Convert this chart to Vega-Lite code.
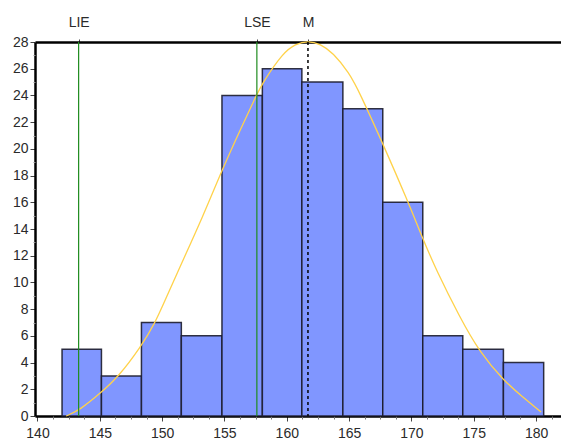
{
  "$schema": "https://vega.github.io/schema/vega-lite/v6.json",
  "autosize": "none",
  "width": 526,
  "height": 374,
  "padding": {"left": 35, "top": 42, "right": 0, "bottom": 28},
  "background": "white",
  "config": {
    "view": {"stroke": null},
    "axis": {"labelFont": "Liberation Sans", "labelFontSize": 14, "labelColor": "#2a2a2a", "grid": false, "title": null, "tickColor": "#444444", "domainColor": "#000000"}
  },
  "datasets": {
    "bars": [
      {"lo": 141.97, "hi": 145.13, "count": 5},
      {"lo": 145.13, "hi": 148.34, "count": 3},
      {"lo": 148.34, "hi": 151.54, "count": 7},
      {"lo": 151.54, "hi": 154.8, "count": 6},
      {"lo": 154.8, "hi": 158.04, "count": 24},
      {"lo": 158.04, "hi": 161.21, "count": 26},
      {"lo": 161.21, "hi": 164.5, "count": 25},
      {"lo": 164.5, "hi": 167.7, "count": 23},
      {"lo": 167.7, "hi": 170.91, "count": 16},
      {"lo": 170.91, "hi": 174.12, "count": 6},
      {"lo": 174.12, "hi": 177.38, "count": 5},
      {"lo": 177.38, "hi": 180.61, "count": 4}
    ],
    "curve": [
      {"x": 142.3, "y": 0.0},
      {"x": 143.4, "y": 0.45},
      {"x": 145.1, "y": 1.75},
      {"x": 146.5, "y": 2.95},
      {"x": 148.3, "y": 5.2},
      {"x": 149.4, "y": 6.9},
      {"x": 150.3, "y": 8.8},
      {"x": 151.3, "y": 10.9},
      {"x": 153.3, "y": 15.0},
      {"x": 154.75, "y": 18.3},
      {"x": 156.2, "y": 21.3},
      {"x": 157.55, "y": 24.0},
      {"x": 158.1, "y": 25.0},
      {"x": 159.7, "y": 27.2},
      {"x": 160.7, "y": 27.85},
      {"x": 161.7, "y": 28.1},
      {"x": 162.7, "y": 27.85},
      {"x": 163.7, "y": 27.2},
      {"x": 165.0, "y": 25.7},
      {"x": 165.85, "y": 24.2},
      {"x": 167.7, "y": 20.4},
      {"x": 169.7, "y": 16.1},
      {"x": 170.9, "y": 13.3},
      {"x": 172.0, "y": 10.9},
      {"x": 173.85, "y": 7.45},
      {"x": 175.45, "y": 4.8},
      {"x": 177.45, "y": 2.6},
      {"x": 178.9, "y": 1.45},
      {"x": 180.4, "y": 0.3}
    ],
    "limits": [
      {"name": "LIE", "v": 143.3},
      {"name": "LSE", "v": 157.6}
    ],
    "mean": [
      {"name": "M", "v": 161.7}
    ]
  },
  "resolve": {"axis": {"x": "independent", "y": "independent"}},
  "layer": [
    {
      "data": {"name": "bars"},
      "mark": {"type": "bar", "fill": "#8096FF", "stroke": "#1c1c2c", "strokeWidth": 1.5, "strokeOpacity": 0.9},
      "encoding": {
        "x": {"field": "lo", "type": "quantitative",
              "scale": {"domain": [139.8, 182], "nice": false, "zero": false},
              "axis": {"orient": "bottom", "values": [140, 145, 150, 155, 160, 165, 170, 175, 180], "tickSize": 5, "domainWidth": 2.5, "labelPadding": 5}},
        "x2": {"field": "hi"},
        "y": {"field": "count", "type": "quantitative",
              "scale": {"domain": [0, 28], "nice": false},
              "axis": {"orient": "left", "values": [0, 2, 4, 6, 8, 10, 12, 14, 16, 18, 20, 22, 24, 26, 28], "tickSize": 5, "domainWidth": 2.5, "labelPadding": 2}},
        "y2": {"datum": 0}
      }
    },
    {
      "data": {"name": "curve"},
      "mark": {"type": "line", "color": "#FFD24A", "strokeWidth": 1.3, "interpolate": "basis", "clip": false},
      "encoding": {
        "x": {"field": "x", "type": "quantitative",
              "axis": {"orient": "bottom", "values": [141.25, 142.5, 143.75, 146.25, 147.5, 148.75, 151.25, 152.5, 153.75, 156.25, 157.5, 158.75, 161.25, 162.5, 163.75, 166.25, 167.5, 168.75, 171.25, 172.5, 173.75, 176.25, 177.5, 178.75, 181.25], "labels": false, "tickSize": 3, "domain": false, "tickColor": "#777777"}},
        "y": {"field": "y", "type": "quantitative",
              "axis": {"orient": "left", "values": [1, 3, 5, 7, 9, 11, 13, 15, 17, 19, 21, 23, 25, 27], "labels": false, "tickSize": 2, "domain": false, "tickColor": "#999999"}}
      }
    },
    {
      "data": {"name": "limits"},
      "mark": {"type": "rule", "color": "#1E8C1E", "strokeWidth": 1.2},
      "encoding": {
        "x": {"field": "v", "type": "quantitative",
              "axis": {"orient": "top", "values": [143.3, 157.6, 161.7], "labelExpr": "datum.value < 150 ? 'LIE' : (datum.value < 160 ? 'LSE' : 'M')", "tickSize": 3, "domainWidth": 2.5, "labelPadding": 10, "labelFontSize": 14}}
      }
    },
    {
      "data": {"name": "mean"},
      "mark": {"type": "rule", "color": "#000000", "strokeWidth": 1.5, "strokeDash": [3, 3]},
      "encoding": {
        "x": {"field": "v", "type": "quantitative", "axis": null}
      }
    }
  ]
}
